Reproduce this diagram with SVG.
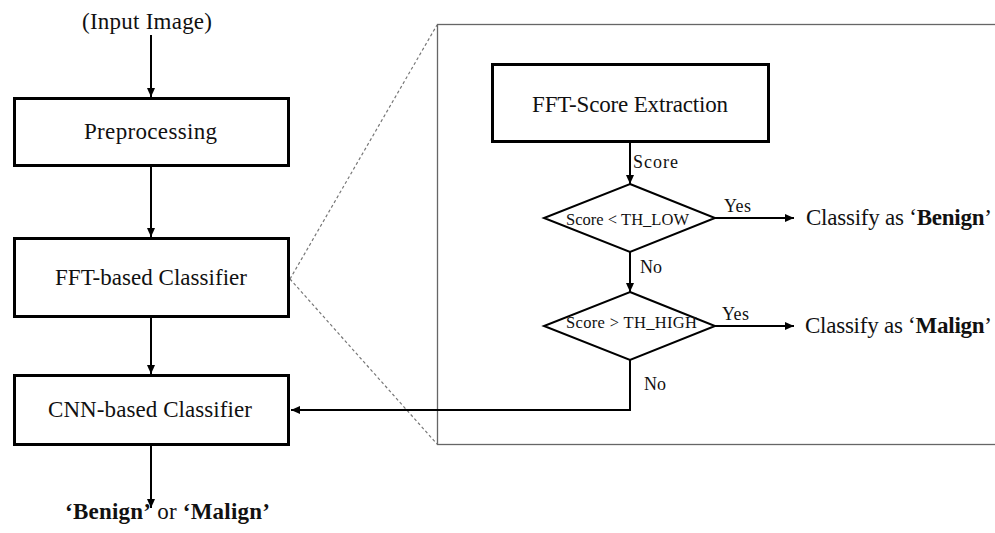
<svg xmlns="http://www.w3.org/2000/svg" width="995" height="533" viewBox="0 0 995 533">
  <style>
    text { font-family: "Liberation Serif", "Times New Roman", serif; fill: #111; }
    .lbl { font-size: 23px; }
    .sm { font-size: 18px; }
    .cond { font-size: 16.5px; }
    .b { font-weight: bold; }
    .box { fill: #fff; stroke: #000; stroke-width: 3; }
    .dia { fill: #fff; stroke: #000; stroke-width: 2; }
    .wire { fill: none; stroke: #000; stroke-width: 2; }
    .zoom { fill: none; stroke: #777; stroke-width: 1.2; stroke-dasharray: 3 2.5; }
    .panel { fill: none; stroke: #666; stroke-width: 1.3; }
  </style>
  <defs>
    <marker id="arrow" markerUnits="userSpaceOnUse" markerWidth="10" markerHeight="10" refX="9" refY="4" orient="auto">
      <path d="M0,0 L9,4 L0,8 Z" fill="#000"/>
    </marker>
  </defs>
  <rect width="995" height="533" fill="#fff"/>

  <!-- detail panel and zoom guides -->
  <g id="detail-panel">
    <rect class="panel" x="437.5" y="24.5" width="600" height="420"/>
    <line class="zoom" x1="290" y1="279" x2="437" y2="25"/>
    <line class="zoom" x1="290" y1="279" x2="437" y2="444"/>
  </g>

  <!-- connectors -->
  <g id="connectors">
    <line class="wire" x1="151" y1="35" x2="151" y2="97" marker-end="url(#arrow)"/>
    <line class="wire" x1="151" y1="167" x2="151" y2="237" marker-end="url(#arrow)"/>
    <line class="wire" x1="151" y1="318" x2="151" y2="374" marker-end="url(#arrow)"/>
    <line class="wire" x1="151" y1="446" x2="151" y2="508" marker-end="url(#arrow)"/>
    <line class="wire" x1="630" y1="143" x2="630" y2="184" marker-end="url(#arrow)"/>
    <line class="wire" x1="630" y1="252" x2="630" y2="292" marker-end="url(#arrow)"/>
    <line class="wire" x1="715" y1="218" x2="794" y2="218" marker-end="url(#arrow)"/>
    <line class="wire" x1="715" y1="326" x2="794" y2="326" marker-end="url(#arrow)"/>
    <polyline class="wire" points="630,360 630,410 291,410" marker-end="url(#arrow)"/>
    <text class="sm" x="633" y="168" textLength="45">Score</text>
    <text class="sm" x="724" y="212" textLength="27">Yes</text>
    <text class="sm" x="640" y="273">No</text>
    <text class="sm" x="722" y="320" textLength="27">Yes</text>
    <text class="sm" x="644" y="390">No</text>
  </g>

  <!-- pipeline -->
  <g id="input">
    <text class="lbl" x="82" y="29" textLength="130">(Input Image)</text>
  </g>
  <g id="preprocessing">
    <rect class="box" x="14.5" y="98.5" width="274" height="67"/>
    <text class="lbl" x="84" y="139" textLength="133">Preprocessing</text>
  </g>
  <g id="fft-classifier">
    <rect class="box" x="14.5" y="238.5" width="274" height="78"/>
    <text class="lbl" x="55" y="285" textLength="192">FFT-based Classifier</text>
  </g>
  <g id="cnn-classifier">
    <rect class="box" x="14.5" y="375.5" width="274" height="69"/>
    <text class="lbl" x="48" y="417" textLength="204">CNN-based Classifier</text>
  </g>
  <g id="output">
    <text class="lbl" x="65" y="519" textLength="205"><tspan class="b">‘Benign’</tspan> or <tspan class="b">‘Malign’</tspan></text>
  </g>

  <!-- FFT classifier detail -->
  <g id="fft-score">
    <rect class="box" x="492.5" y="64.5" width="276" height="77"/>
    <text class="lbl" x="532" y="112" textLength="196">FFT-Score Extraction</text>
  </g>
  <g id="check-low">
    <polygon class="dia" points="630,184 715,218 630,252 544,218"/>
    <text class="cond" x="566" y="225" textLength="123">Score &lt; TH_LOW</text>
  </g>
  <g id="check-high">
    <polygon class="dia" points="630,292 715,326 630,360 544,326"/>
    <text class="cond" x="566" y="328" textLength="131">Score &gt; TH_HIGH</text>
  </g>
  <g id="benign">
    <text class="lbl" x="806" y="225" textLength="186">Classify as ‘<tspan class="b">Benign</tspan>’</text>
  </g>
  <g id="malign">
    <text class="lbl" x="805" y="333" textLength="187">Classify as ‘<tspan class="b">Malign</tspan>’</text>
  </g>
</svg>
